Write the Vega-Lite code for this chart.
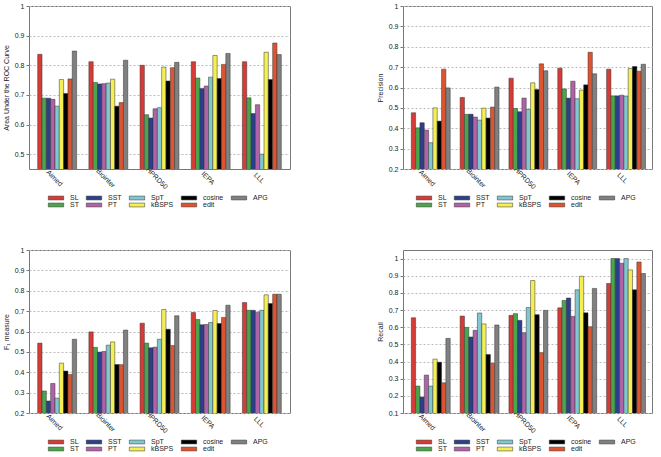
{
  "$schema": "https://vega.github.io/schema/vega-lite/v6.json",
  "padding": {"left": 1, "top": 1, "right": 5, "bottom": 1},
  "background": "white",
  "config": {
    "font": "Liberation Sans",
    "view": {"stroke": "#777", "strokeWidth": 1},
    "axis": {"labelFontSize": 7, "titleFontSize": 7, "titleFontWeight": "normal", "labelColor": "#222", "titleColor": "#222", "domain": false, "tickColor": "#777", "tickSize": 3, "labelOverlap": false},
    "axisY": {"grid": true, "gridDash": [2, 2], "gridColor": "#bbb", "titlePadding": 5},
    "axisX": {"grid": false, "labelAngle": 45, "labelAlign": "center", "labelBaseline": "top", "labelPadding": 6, "title": null, "tickSize": 0},
    "legend": {"labelFontSize": 7, "labelColor": "#222", "layout": {"bottom": {"anchor": "middle"}}},
    "bar": {"stroke": "#333", "strokeWidth": 0.5}
  },
  "datasets": {
    "auc": [
      {"ds": "Aimed", "method": "SL", "v": 0.837}, {"ds": "Aimed", "method": "ST", "v": 0.689}, {"ds": "Aimed", "method": "SST", "v": 0.689}, {"ds": "Aimed", "method": "PT", "v": 0.685}, {"ds": "Aimed", "method": "SpT", "v": 0.662}, {"ds": "Aimed", "method": "kBSPS", "v": 0.752}, {"ds": "Aimed", "method": "cosine", "v": 0.705}, {"ds": "Aimed", "method": "edit", "v": 0.754}, {"ds": "Aimed", "method": "APG", "v": 0.848},
      {"ds": "Biointer", "method": "SL", "v": 0.812}, {"ds": "Biointer", "method": "ST", "v": 0.742}, {"ds": "Biointer", "method": "SST", "v": 0.737}, {"ds": "Biointer", "method": "PT", "v": 0.738}, {"ds": "Biointer", "method": "SpT", "v": 0.74}, {"ds": "Biointer", "method": "kBSPS", "v": 0.753}, {"ds": "Biointer", "method": "cosine", "v": 0.662}, {"ds": "Biointer", "method": "edit", "v": 0.674}, {"ds": "Biointer", "method": "APG", "v": 0.817},
      {"ds": "HPRD50", "method": "SL", "v": 0.80}, {"ds": "HPRD50", "method": "ST", "v": 0.633}, {"ds": "HPRD50", "method": "SST", "v": 0.622}, {"ds": "HPRD50", "method": "PT", "v": 0.653}, {"ds": "HPRD50", "method": "SpT", "v": 0.657}, {"ds": "HPRD50", "method": "kBSPS", "v": 0.794}, {"ds": "HPRD50", "method": "cosine", "v": 0.747}, {"ds": "HPRD50", "method": "edit", "v": 0.792}, {"ds": "HPRD50", "method": "APG", "v": 0.81},
      {"ds": "IEPA", "method": "SL", "v": 0.812}, {"ds": "IEPA", "method": "ST", "v": 0.757}, {"ds": "IEPA", "method": "SST", "v": 0.722}, {"ds": "IEPA", "method": "PT", "v": 0.73}, {"ds": "IEPA", "method": "SpT", "v": 0.76}, {"ds": "IEPA", "method": "kBSPS", "v": 0.833}, {"ds": "IEPA", "method": "cosine", "v": 0.755}, {"ds": "IEPA", "method": "edit", "v": 0.803}, {"ds": "IEPA", "method": "APG", "v": 0.84},
      {"ds": "LLL", "method": "SL", "v": 0.812}, {"ds": "LLL", "method": "ST", "v": 0.69}, {"ds": "LLL", "method": "SST", "v": 0.637}, {"ds": "LLL", "method": "PT", "v": 0.667}, {"ds": "LLL", "method": "SpT", "v": 0.50}, {"ds": "LLL", "method": "kBSPS", "v": 0.844}, {"ds": "LLL", "method": "cosine", "v": 0.752}, {"ds": "LLL", "method": "edit", "v": 0.875}, {"ds": "LLL", "method": "APG", "v": 0.836}
    ],
    "precision": [
      {"ds": "Aimed", "method": "SL", "v": 0.476}, {"ds": "Aimed", "method": "ST", "v": 0.402}, {"ds": "Aimed", "method": "SST", "v": 0.427}, {"ds": "Aimed", "method": "PT", "v": 0.391}, {"ds": "Aimed", "method": "SpT", "v": 0.329}, {"ds": "Aimed", "method": "kBSPS", "v": 0.50}, {"ds": "Aimed", "method": "cosine", "v": 0.435}, {"ds": "Aimed", "method": "edit", "v": 0.69}, {"ds": "Aimed", "method": "APG", "v": 0.598},
      {"ds": "Biointer", "method": "SL", "v": 0.551}, {"ds": "Biointer", "method": "ST", "v": 0.468}, {"ds": "Biointer", "method": "SST", "v": 0.469}, {"ds": "Biointer", "method": "PT", "v": 0.455}, {"ds": "Biointer", "method": "SpT", "v": 0.44}, {"ds": "Biointer", "method": "kBSPS", "v": 0.499}, {"ds": "Biointer", "method": "cosine", "v": 0.45}, {"ds": "Biointer", "method": "edit", "v": 0.504}, {"ds": "Biointer", "method": "APG", "v": 0.602},
      {"ds": "HPRD50", "method": "SL", "v": 0.646}, {"ds": "HPRD50", "method": "ST", "v": 0.497}, {"ds": "HPRD50", "method": "SST", "v": 0.481}, {"ds": "HPRD50", "method": "PT", "v": 0.548}, {"ds": "HPRD50", "method": "SpT", "v": 0.492}, {"ds": "HPRD50", "method": "kBSPS", "v": 0.623}, {"ds": "HPRD50", "method": "cosine", "v": 0.59}, {"ds": "HPRD50", "method": "edit", "v": 0.716}, {"ds": "HPRD50", "method": "APG", "v": 0.682},
      {"ds": "IEPA", "method": "SL", "v": 0.695}, {"ds": "IEPA", "method": "ST", "v": 0.593}, {"ds": "IEPA", "method": "SST", "v": 0.548}, {"ds": "IEPA", "method": "PT", "v": 0.631}, {"ds": "IEPA", "method": "SpT", "v": 0.545}, {"ds": "IEPA", "method": "kBSPS", "v": 0.587}, {"ds": "IEPA", "method": "cosine", "v": 0.613}, {"ds": "IEPA", "method": "edit", "v": 0.773}, {"ds": "IEPA", "method": "APG", "v": 0.667},
      {"ds": "LLL", "method": "SL", "v": 0.69}, {"ds": "LLL", "method": "ST", "v": 0.559}, {"ds": "LLL", "method": "SST", "v": 0.559}, {"ds": "LLL", "method": "PT", "v": 0.562}, {"ds": "LLL", "method": "SpT", "v": 0.558}, {"ds": "LLL", "method": "kBSPS", "v": 0.693}, {"ds": "LLL", "method": "cosine", "v": 0.703}, {"ds": "LLL", "method": "edit", "v": 0.68}, {"ds": "LLL", "method": "APG", "v": 0.714}
    ],
    "f1": [
      {"ds": "Aimed", "method": "SL", "v": 0.543}, {"ds": "Aimed", "method": "ST", "v": 0.308}, {"ds": "Aimed", "method": "SST", "v": 0.259}, {"ds": "Aimed", "method": "PT", "v": 0.345}, {"ds": "Aimed", "method": "SpT", "v": 0.273}, {"ds": "Aimed", "method": "kBSPS", "v": 0.445}, {"ds": "Aimed", "method": "cosine", "v": 0.406}, {"ds": "Aimed", "method": "edit", "v": 0.389}, {"ds": "Aimed", "method": "APG", "v": 0.562},
      {"ds": "Biointer", "method": "SL", "v": 0.598}, {"ds": "Biointer", "method": "ST", "v": 0.522}, {"ds": "Biointer", "method": "SST", "v": 0.499}, {"ds": "Biointer", "method": "PT", "v": 0.502}, {"ds": "Biointer", "method": "SpT", "v": 0.533}, {"ds": "Biointer", "method": "kBSPS", "v": 0.549}, {"ds": "Biointer", "method": "cosine", "v": 0.438}, {"ds": "Biointer", "method": "edit", "v": 0.437}, {"ds": "Biointer", "method": "APG", "v": 0.607},
      {"ds": "HPRD50", "method": "SL", "v": 0.641}, {"ds": "HPRD50", "method": "ST", "v": 0.543}, {"ds": "HPRD50", "method": "SST", "v": 0.52}, {"ds": "HPRD50", "method": "PT", "v": 0.523}, {"ds": "HPRD50", "method": "SpT", "v": 0.562}, {"ds": "HPRD50", "method": "kBSPS", "v": 0.708}, {"ds": "HPRD50", "method": "cosine", "v": 0.611}, {"ds": "HPRD50", "method": "edit", "v": 0.531}, {"ds": "HPRD50", "method": "APG", "v": 0.677},
      {"ds": "IEPA", "method": "SL", "v": 0.693}, {"ds": "IEPA", "method": "ST", "v": 0.659}, {"ds": "IEPA", "method": "SST", "v": 0.633}, {"ds": "IEPA", "method": "PT", "v": 0.634}, {"ds": "IEPA", "method": "SpT", "v": 0.644}, {"ds": "IEPA", "method": "kBSPS", "v": 0.703}, {"ds": "IEPA", "method": "cosine", "v": 0.639}, {"ds": "IEPA", "method": "edit", "v": 0.669}, {"ds": "IEPA", "method": "APG", "v": 0.729},
      {"ds": "LLL", "method": "SL", "v": 0.742}, {"ds": "LLL", "method": "ST", "v": 0.704}, {"ds": "LLL", "method": "SST", "v": 0.704}, {"ds": "LLL", "method": "PT", "v": 0.695}, {"ds": "LLL", "method": "SpT", "v": 0.704}, {"ds": "LLL", "method": "kBSPS", "v": 0.78}, {"ds": "LLL", "method": "cosine", "v": 0.737}, {"ds": "LLL", "method": "edit", "v": 0.783}, {"ds": "LLL", "method": "APG", "v": 0.783}
    ],
    "recall": [
      {"ds": "Aimed", "method": "SL", "v": 0.655}, {"ds": "Aimed", "method": "ST", "v": 0.257}, {"ds": "Aimed", "method": "SST", "v": 0.193}, {"ds": "Aimed", "method": "PT", "v": 0.321}, {"ds": "Aimed", "method": "SpT", "v": 0.257}, {"ds": "Aimed", "method": "kBSPS", "v": 0.414}, {"ds": "Aimed", "method": "cosine", "v": 0.396}, {"ds": "Aimed", "method": "edit", "v": 0.276}, {"ds": "Aimed", "method": "APG", "v": 0.535},
      {"ds": "Biointer", "method": "SL", "v": 0.665}, {"ds": "Biointer", "method": "ST", "v": 0.599}, {"ds": "Biointer", "method": "SST", "v": 0.543}, {"ds": "Biointer", "method": "PT", "v": 0.582}, {"ds": "Biointer", "method": "SpT", "v": 0.683}, {"ds": "Biointer", "method": "kBSPS", "v": 0.619}, {"ds": "Biointer", "method": "cosine", "v": 0.441}, {"ds": "Biointer", "method": "edit", "v": 0.39}, {"ds": "Biointer", "method": "APG", "v": 0.613},
      {"ds": "HPRD50", "method": "SL", "v": 0.669}, {"ds": "HPRD50", "method": "ST", "v": 0.679}, {"ds": "HPRD50", "method": "SST", "v": 0.64}, {"ds": "HPRD50", "method": "PT", "v": 0.568}, {"ds": "HPRD50", "method": "SpT", "v": 0.715}, {"ds": "HPRD50", "method": "kBSPS", "v": 0.872}, {"ds": "HPRD50", "method": "cosine", "v": 0.673}, {"ds": "HPRD50", "method": "edit", "v": 0.452}, {"ds": "HPRD50", "method": "APG", "v": 0.698},
      {"ds": "IEPA", "method": "SL", "v": 0.713}, {"ds": "IEPA", "method": "ST", "v": 0.756}, {"ds": "IEPA", "method": "SST", "v": 0.77}, {"ds": "IEPA", "method": "PT", "v": 0.663}, {"ds": "IEPA", "method": "SpT", "v": 0.818}, {"ds": "IEPA", "method": "kBSPS", "v": 0.897}, {"ds": "IEPA", "method": "cosine", "v": 0.684}, {"ds": "IEPA", "method": "edit", "v": 0.603}, {"ds": "IEPA", "method": "APG", "v": 0.826},
      {"ds": "LLL", "method": "SL", "v": 0.855}, {"ds": "LLL", "method": "ST", "v": 1.0}, {"ds": "LLL", "method": "SST", "v": 1.0}, {"ds": "LLL", "method": "PT", "v": 0.973}, {"ds": "LLL", "method": "SpT", "v": 1.0}, {"ds": "LLL", "method": "kBSPS", "v": 0.934}, {"ds": "LLL", "method": "cosine", "v": 0.818}, {"ds": "LLL", "method": "edit", "v": 0.98}, {"ds": "LLL", "method": "APG", "v": 0.913}
    ]
  },
  "resolve": {"legend": {"color": "independent"}, "scale": {"y": "independent"}},
  "columns": 2,
  "spacing": {"row": 36, "column": 84},
  "concat": [
    {
      "data": {"name": "auc"},
      "width": 261, "height": 163,
      "mark": {"type": "bar", "clip": true},
      "encoding": {
        "x": {"field": "ds", "type": "nominal", "sort": null, "scale": {"paddingInner": 0.24, "paddingOuter": 0.17}},
        "xOffset": {"field": "method", "type": "nominal", "sort": ["SL", "ST", "SST", "PT", "SpT", "kBSPS", "cosine", "edit", "APG"], "scale": {"paddingInner": 0}},
        "y": {"field": "v", "type": "quantitative", "title": "Area Under the ROC Curve", "scale": {"domain": [0.45, 1], "zero": false, "nice": false}, "axis": {"values": [0.5, 0.6, 0.7, 0.8, 0.9, 1], "format": "~g"}},
        "color": {"field": "method", "type": "nominal", "scale": {"domain": ["SL", "ST", "SST", "PT", "SpT", "kBSPS", "cosine", "edit", "APG"], "range": ["#d63c35", "#4ba54a", "#2b3f8c", "#b063a6", "#80c7d0", "#f4ef55", "#000000", "#de5430", "#808080"]},
          "legend": {"title": null, "orient": "bottom", "direction": "horizontal", "columns": 5, "values": ["SL", "SST", "SpT", "cosine", "APG", "ST", "PT", "kBSPS", "edit"], "symbolType": "M-2.2,-0.55H2.2V0.55H-2.2Z", "symbolSize": 49, "symbolStrokeColor": "#333", "symbolStrokeWidth": 0.5, "labelOffset": 10, "columnPadding": 6, "rowPadding": 0, "offset": 4}}
      }
    },
    {
      "data": {"name": "precision"},
      "width": 249, "height": 163,
      "mark": {"type": "bar", "clip": true},
      "encoding": {
        "x": {"field": "ds", "type": "nominal", "sort": null, "scale": {"paddingInner": 0.24, "paddingOuter": 0.17}},
        "xOffset": {"field": "method", "type": "nominal", "sort": ["SL", "ST", "SST", "PT", "SpT", "kBSPS", "cosine", "edit", "APG"], "scale": {"paddingInner": 0}},
        "y": {"field": "v", "type": "quantitative", "title": "Precision", "scale": {"domain": [0.2, 1], "zero": false, "nice": false}, "axis": {"values": [0.2, 0.3, 0.4, 0.5, 0.6, 0.7, 0.8, 0.9, 1], "format": "~g"}},
        "color": {"field": "method", "type": "nominal", "scale": {"domain": ["SL", "ST", "SST", "PT", "SpT", "kBSPS", "cosine", "edit", "APG"], "range": ["#d63c35", "#4ba54a", "#2b3f8c", "#b063a6", "#80c7d0", "#f4ef55", "#000000", "#de5430", "#808080"]},
          "legend": {"title": null, "orient": "bottom", "direction": "horizontal", "columns": 5, "values": ["SL", "SST", "SpT", "cosine", "APG", "ST", "PT", "kBSPS", "edit"], "symbolType": "M-2.2,-0.55H2.2V0.55H-2.2Z", "symbolSize": 49, "symbolStrokeColor": "#333", "symbolStrokeWidth": 0.5, "labelOffset": 10, "columnPadding": 6, "rowPadding": 0, "offset": 4}}
      }
    },
    {
      "data": {"name": "f1"},
      "width": 261, "height": 163,
      "mark": {"type": "bar", "clip": true},
      "encoding": {
        "x": {"field": "ds", "type": "nominal", "sort": null, "scale": {"paddingInner": 0.24, "paddingOuter": 0.17}},
        "xOffset": {"field": "method", "type": "nominal", "sort": ["SL", "ST", "SST", "PT", "SpT", "kBSPS", "cosine", "edit", "APG"], "scale": {"paddingInner": 0}},
        "y": {"field": "v", "type": "quantitative", "title": "F₁ measure", "scale": {"domain": [0.2, 1], "zero": false, "nice": false}, "axis": {"values": [0.2, 0.3, 0.4, 0.5, 0.6, 0.7, 0.8, 0.9, 1], "format": "~g"}},
        "color": {"field": "method", "type": "nominal", "scale": {"domain": ["SL", "ST", "SST", "PT", "SpT", "kBSPS", "cosine", "edit", "APG"], "range": ["#d63c35", "#4ba54a", "#2b3f8c", "#b063a6", "#80c7d0", "#f4ef55", "#000000", "#de5430", "#808080"]},
          "legend": {"title": null, "orient": "bottom", "direction": "horizontal", "columns": 5, "values": ["SL", "SST", "SpT", "cosine", "APG", "ST", "PT", "kBSPS", "edit"], "symbolType": "M-2.2,-0.55H2.2V0.55H-2.2Z", "symbolSize": 49, "symbolStrokeColor": "#333", "symbolStrokeWidth": 0.5, "labelOffset": 10, "columnPadding": 6, "rowPadding": 0, "offset": 4}}
      }
    },
    {
      "data": {"name": "recall"},
      "width": 249, "height": 163,
      "mark": {"type": "bar", "clip": true},
      "encoding": {
        "x": {"field": "ds", "type": "nominal", "sort": null, "scale": {"paddingInner": 0.24, "paddingOuter": 0.17}},
        "xOffset": {"field": "method", "type": "nominal", "sort": ["SL", "ST", "SST", "PT", "SpT", "kBSPS", "cosine", "edit", "APG"], "scale": {"paddingInner": 0}},
        "y": {"field": "v", "type": "quantitative", "title": "Recall", "scale": {"domain": [0.1, 1.05], "zero": false, "nice": false}, "axis": {"values": [0.1, 0.2, 0.3, 0.4, 0.5, 0.6, 0.7, 0.8, 0.9, 1], "format": "~g"}},
        "color": {"field": "method", "type": "nominal", "scale": {"domain": ["SL", "ST", "SST", "PT", "SpT", "kBSPS", "cosine", "edit", "APG"], "range": ["#d63c35", "#4ba54a", "#2b3f8c", "#b063a6", "#80c7d0", "#f4ef55", "#000000", "#de5430", "#808080"]},
          "legend": {"title": null, "orient": "bottom", "direction": "horizontal", "columns": 5, "values": ["SL", "SST", "SpT", "cosine", "APG", "ST", "PT", "kBSPS", "edit"], "symbolType": "M-2.2,-0.55H2.2V0.55H-2.2Z", "symbolSize": 49, "symbolStrokeColor": "#333", "symbolStrokeWidth": 0.5, "labelOffset": 10, "columnPadding": 6, "rowPadding": 0, "offset": 4}}
      }
    }
  ]
}
